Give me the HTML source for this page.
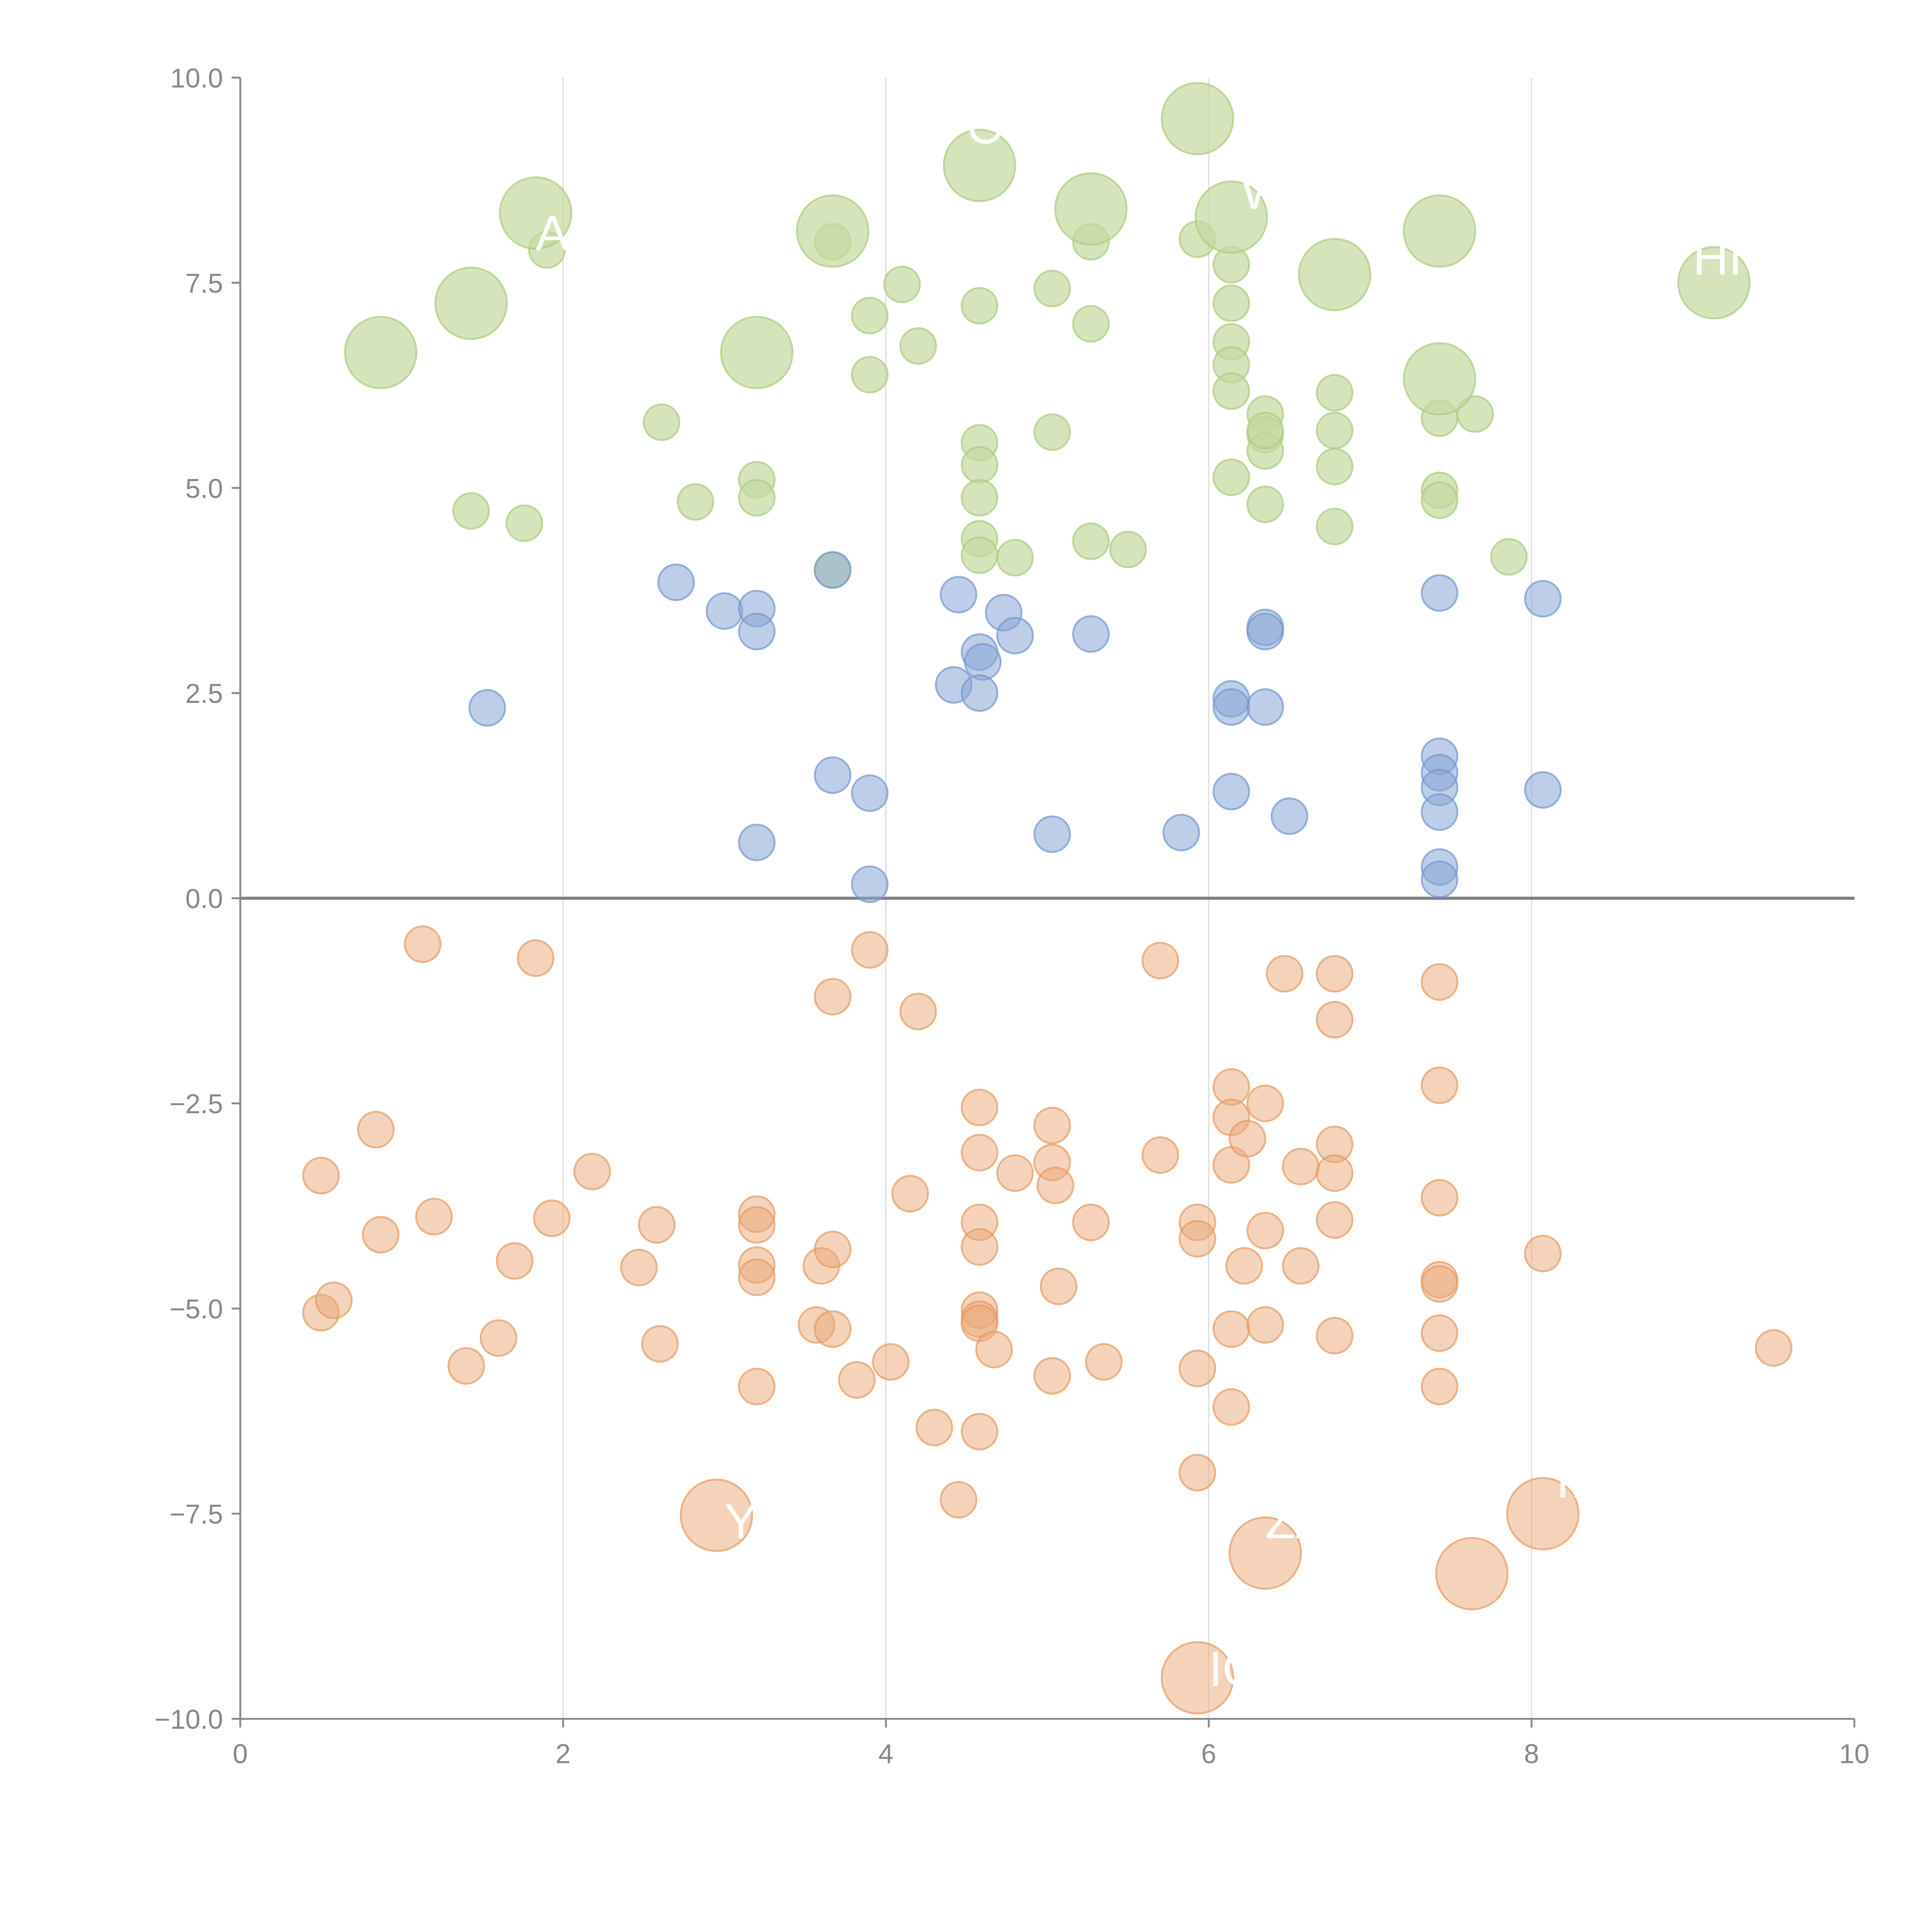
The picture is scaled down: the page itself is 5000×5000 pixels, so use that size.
<!DOCTYPE html>
<html><head><meta charset="utf-8"><style>
html,body{margin:0;padding:0;background:#fff;}
svg{display:block;font-family:"Liberation Sans",sans-serif;}
</style></head><body>
<svg id="chart" width="5000" height="5000" viewBox="0 0 1568 1568" xmlns="http://www.w3.org/2000/svg">
<g id="grid"></g>
<g id="axes"></g>
<g id="marks"></g>
<g id="labels"></g>
</svg>
<script>
const xTicks=[0,2,4,6,8,10];
const yTicks=[-10,-7.5,-5,-2.5,0,2.5,5,7.5,10];
const yTickLabels=["\u221210.0","\u22127.5","\u22125.0","\u22122.5","0.0","2.5","5.0","7.5","10.0"];
const catGreen=[[1.43,4.72,0],[1.76,4.57,0],[1.9,7.9,0],[2.61,5.8,0],[2.82,4.83,0],[3.2,5.1,0],[3.2,4.88,0],[3.67,8.0,0],[3.67,4.0,0],[3.9,7.1,0],[3.9,6.38,0],[4.1,7.48,0],[4.2,6.73,0],[4.58,7.22,0],[4.58,5.55,0],[4.58,5.28,0],[4.58,4.88,0],[4.58,4.38,0],[4.58,4.18,0],[4.8,4.15,0],[5.03,7.43,0],[5.03,5.68,0],[5.27,8.0,0],[5.27,7.0,0],[5.27,4.35,0],[5.5,4.25,0],[5.93,8.03,0],[6.14,7.72,0],[6.14,7.25,0],[6.14,6.78,0],[6.14,6.5,0],[6.14,6.18,0],[6.14,5.13,0],[6.35,5.9,0],[6.35,5.65,0],[6.35,5.45,0],[6.35,5.7,0],[6.35,4.8,0],[6.78,6.16,0],[6.78,5.7,0],[6.78,5.26,0],[6.78,4.53,0],[7.43,5.85,0],[7.43,4.97,0],[7.43,4.85,0],[7.65,5.9,0],[7.86,4.16,0],
[0.87,6.65,1],[1.43,7.25,1],[1.83,8.35,1],[3.2,6.65,1],[3.67,8.13,1],[4.58,8.93,1],[5.27,8.4,1],[5.93,9.5,1],[6.14,8.3,1],[6.78,7.6,1],[7.43,8.13,1],[7.43,6.33,1],[9.13,7.5,1]];
const catBlue=[[1.53,2.32,0],[2.7,3.85,0],[3.0,3.5,0],[3.2,3.53,0],[3.2,3.25,0],[3.2,0.68,0],[3.67,4.0,0],[3.67,1.5,0],[3.9,1.28,0],[3.9,0.17,0],[4.45,3.7,0],[4.42,2.6,0],[4.58,3.0,0],[4.6,2.88,0],[4.58,2.5,0],[4.73,3.48,0],[4.8,3.2,0],[5.03,0.78,0],[5.27,3.22,0],[5.83,0.8,0],[6.14,2.43,0],[6.14,2.33,0],[6.14,1.3,0],[6.35,3.3,0],[6.35,3.25,0],[6.35,2.33,0],[6.5,1.0,0],[7.43,3.72,0],[7.43,1.73,0],[7.43,1.53,0],[7.43,1.35,0],[7.43,1.05,0],[7.43,0.38,0],[7.43,0.23,0],[8.07,3.65,0],[8.07,1.32,0]];
const catOrange=[[0.5,-3.38,0],[0.5,-5.05,0],[0.58,-4.9,0],[0.84,-2.82,0],[0.87,-4.1,0],[1.13,-0.56,0],[1.2,-3.88,0],[1.4,-5.7,0],[1.6,-5.36,0],[1.7,-4.42,0],[1.83,-0.73,0],[1.93,-3.9,0],[2.18,-3.33,0],[2.47,-4.5,0],[2.58,-3.98,0],[2.6,-5.43,0],[3.2,-3.85,0],[3.2,-3.98,0],[3.2,-4.47,0],[3.2,-4.62,0],[3.2,-5.95,0],[3.57,-5.2,0],[3.6,-4.48,0],[3.67,-1.2,0],[3.67,-4.28,0],[3.67,-5.25,0],[3.82,-5.87,0],[3.9,-0.63,0],[4.03,-5.65,0],[4.15,-3.6,0],[4.2,-1.38,0],[4.3,-6.45,0],[4.45,-7.33,0],[4.58,-2.55,0],[4.58,-3.1,0],[4.58,-3.95,0],[4.58,-4.25,0],[4.58,-5.02,0],[4.58,-5.13,0],[4.58,-5.18,0],[4.58,-6.5,0],[4.67,-5.5,0],[4.8,-3.35,0],[5.03,-2.77,0],[5.03,-3.22,0],[5.05,-3.5,0],[5.07,-4.73,0],[5.03,-5.82,0],[5.27,-3.95,0],[5.35,-5.65,0],[5.7,-0.76,0],[5.7,-3.13,0],[5.93,-3.95,0],[5.93,-4.15,0],[5.93,-5.73,0],[5.93,-7.0,0],[6.14,-2.3,0],[6.14,-2.67,0],[6.14,-3.25,0],[6.14,-5.25,0],[6.14,-6.2,0],[6.22,-4.48,0],[6.24,-2.93,0],[6.35,-2.5,0],[6.35,-4.05,0],[6.35,-5.2,0],[6.47,-0.92,0],[6.57,-3.27,0],[6.57,-4.48,0],[6.78,-0.92,0],[6.78,-1.48,0],[6.78,-3.0,0],[6.78,-3.35,0],[6.78,-3.92,0],[6.78,-5.33,0],[7.43,-1.02,0],[7.43,-2.28,0],[7.43,-3.65,0],[7.43,-4.65,0],[7.43,-4.7,0],[7.43,-5.3,0],[7.43,-5.95,0],[8.07,-4.33,0],[9.5,-5.48,0],
[2.95,-7.52,1],[6.35,-7.98,1],[7.63,-8.23,1],[8.07,-7.5,1],[5.93,-9.5,1]];
const labelText=["A","C","WA","HI","IO","ZA","TA","Y"];
const labelPos=[[1.83,7.9],[4.5,9.2],[6.2,8.4],[9.0,7.6],[6.0,-9.6],[6.35,-7.8],[8.1,-7.3],[3.0,-7.8]];

const NS="http://www.w3.org/2000/svg";
const X0=195,X1=1505,Y0=1395,Y1=63;
function sx(v){return X0+(v-0)/(10-0)*(X1-X0);}
function sy(v){return Y0-(v+10)/20*(Y0-Y1);}
function mk(t,a,p){const e=document.createElementNS(NS,t);for(const k in a)e.setAttribute(k,a[k]);p.appendChild(e);return e;}
const grid=document.getElementById('grid'),axes=document.getElementById('axes'),marks=document.getElementById('marks'),labels=document.getElementById('labels');

xTicks.forEach(v=>{
  if(v>0&&v<10){const g=mk('line',{x1:sx(v),x2:sx(v),y1:Y1,y2:Y0,stroke:'#dcdcdc','stroke-width':1},grid);
  
  }
  const t=mk('line',{x1:sx(v),x2:sx(v),y1:Y0,y2:Y0+7,stroke:'#888','stroke-width':1.5},axes);
  
  
  const l=mk('text',{x:sx(v),y:Y0+36,'text-anchor':'middle','font-size':22,fill:'#888'},axes);
  l.textContent=String(v);
  
  
});
yTicks.forEach((v,i)=>{
  const t=mk('line',{x1:X0-7,x2:X0,y1:sy(v),y2:sy(v),stroke:'#888','stroke-width':1.5},axes);
  
  
  const l=mk('text',{x:X0-14,y:sy(v)+8,'text-anchor':'end','font-size':22,fill:'#888'},axes);
  l.textContent=yTickLabels[i];
  
  
});
let a=mk('line',{x1:X0,x2:X0,y1:Y1,y2:Y0,stroke:'#888','stroke-width':1.5},axes);


a=mk('line',{x1:X0,x2:X1,y1:Y0,y2:Y0,stroke:'#888','stroke-width':1.5},axes);



function series(data,fill,stroke,op,name){
  data.forEach(d=>{
    const c=mk('circle',{cx:sx(d[0]),cy:sy(d[1]),r:d[2]?29:14.5,fill:fill,'fill-opacity':op,stroke:stroke,'stroke-opacity':0.7,'stroke-width':1.5},marks);
    
    
  });
}
series(catGreen,'#c4d8a0','#aaca7f',0.7,'bubble-green');
series(catBlue,'#88a5d6','#7595cc',0.55,'bubble-blue');
series(catOrange,'#eba777','#e39a62',0.5,'bubble-orange');

a=mk('line',{x1:X0,x2:X1,y1:sy(0),y2:sy(0),stroke:'#808080','stroke-width':2.5},axes);



labelText.forEach((s,i)=>{
  const t=mk('text',{x:sx(labelPos[i][0]),y:sy(labelPos[i][1]),'font-size':40,fill:'#fff'},labels);
  t.textContent=s;
  
  
});
</script>
</body></html>
